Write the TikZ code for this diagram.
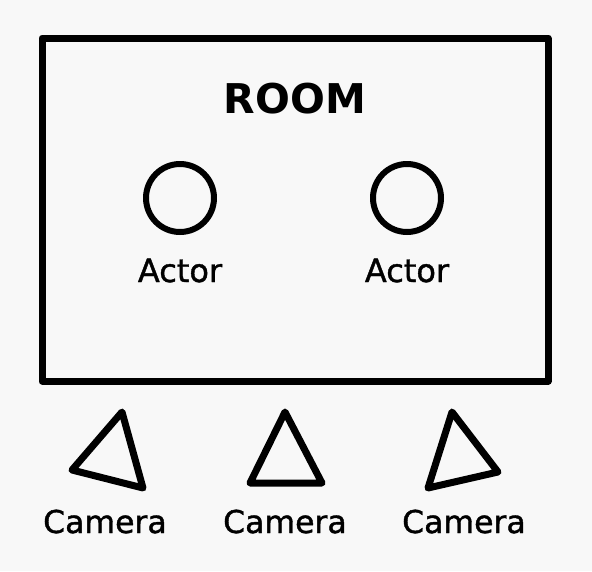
\documentclass[tikz,border=0pt]{standalone}
\usepackage{fontspec}
\setmainfont{DejaVu Sans}
\newfontfamily\labelfont[FakeBold=1.2]{DejaVu Sans}
\definecolor{paper}{HTML}{F8F8F8}

\begin{document}
\begin{tikzpicture} [x = 1pt, y = -1pt, line join = round, line cap = round]
\tikzset{label/.style = {anchor = base, inner sep = 0pt, font = \labelfont\fontsize{31.5}{36}\selectfont}}
\useasboundingbox[fill = paper] (0, 0) rectangle (592, 571);
\draw[black, line width = 7pt] (42, 38) rectangle (548, 381);
\node[anchor = base, inner sep = 0pt, font = \fontsize{41}{48}\selectfont\bfseries] (room) at (295, 113){ROOM};
\node[draw, circle, line width = 6pt, minimum size = 68pt, inner sep = 0pt] (actorA) at (180, 198){};
\node[draw, circle, line width = 6pt, minimum size = 68pt, inner sep = 0pt] (actorB) at (407, 198){};
\node[label, font = \labelfont\fontsize{32}{36}\selectfont] (actorAtext) at (180, 282){Actor};
\node[label, font = \labelfont\fontsize{32}{36}\selectfont] (actorBtext) at (407, 282){Actor};
\draw[black, line width = 7pt] (122, 412) -- (72, 470) -- (143, 488) -- cycle;
\draw[black, line width = 7pt] (285, 412) -- (250, 483) -- (322, 483) -- cycle;
\draw[black, line width = 7pt] (452, 412) -- (498, 472) -- (428, 488) -- cycle;
\node[label] (camA) at (105, 533){Camera};
\node[label] (camB) at (285, 533){Camera};
\node[label] (camC) at (464, 533){Camera};
\end{tikzpicture}
\end{document}
